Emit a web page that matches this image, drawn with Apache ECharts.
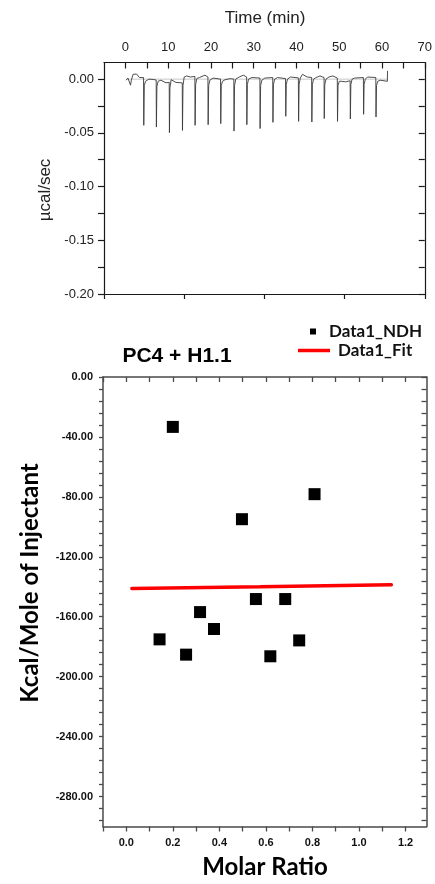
<!DOCTYPE html>
<html>
<head>
<meta charset="utf-8">
<script src="https://cdn.jsdelivr.net/npm/echarts@6/dist/echarts.min.js"></script>
<style>
html,body{margin:0;padding:0;background:#fff;}
#chart{width:435px;height:884px;}
</style>
</head>
<body>
<div id="chart"></div>
<script>
// ---------- Top panel: raw ITC thermogram (time in min, µcal/sec) ----------
var thermoTrace = [
[0.15,-0.001],[0.6,0.001],[1.0,0.0005],[1.2,-0.0056],[1.4,-0.001],[1.8,0.0045],[2.6,0.0048],[3.3,0.0015],[4.25,0.0015],
[4.3,-0.043],[4.42,-0.006],[4.7,-0.002],[5.5,0],[6.5,-0.0003],[7.2,-0.0008],
[7.25,-0.0446],[7.37,-0.007],[7.65,-0.002],[8.3,-0.001],[9.5,-0.0034],[10.25,-0.003],
[10.3,-0.0498],[10.42,-0.008],[10.7,-0.0005],[11.8,-0.003],[13.3,-0.0035],
[13.35,-0.0477],[13.47,-0.006],[13.75,0.002],[14.3,0.003],[15.2,0.002],[16.25,0.0025],
[16.3,-0.043],[16.42,-0.005],[16.7,0.0005],[17.3,0.0015],[18.6,0.0037],[19.3,0.002],
[19.35,-0.0424],[19.47,-0.006],[19.75,-0.001],[20.5,0.001],[22.25,0],
[22.3,-0.0414],[22.42,-0.006],[22.7,-0.002],[23.3,-0.0005],[24.5,0.0005],[25.35,0],
[25.4,-0.0483],[25.52,-0.006],[25.8,0],[26.6,0.002],[27.6,0.0037],[28.35,0.002],
[28.4,-0.0424],[28.52,-0.005],[28.8,0],[29.6,0.0015],[31.45,0.001],
[31.5,-0.046],[31.62,-0.006],[31.9,-0.001],[32.6,0.001],[34.45,0.0015],
[34.5,-0.0402],[34.62,-0.005],[34.9,0],[35.6,0.0015],[37.45,0.0005],
[37.5,-0.0346],[37.62,-0.005],[37.9,0],[38.6,0.002],[40.45,0.0012],
[40.5,-0.0393],[40.62,-0.005],[40.9,0.001],[41.4,0.0045],[42.5,0.002],[43.55,0.0015],
[43.6,-0.0399],[43.72,-0.005],[44.0,0],[44.6,0.0015],[45.5,0.003],[46.45,0.0015],
[46.5,-0.0367],[46.62,-0.005],[46.9,0],[47.6,0.002],[48.5,0.003],[49.55,0.001],
[49.6,-0.0393],[49.72,-0.006],[50.0,-0.002],[50.6,-0.002],[51.5,-0.0025],[52.55,-0.0015],
[52.6,-0.037],[52.72,-0.005],[53.0,0],[53.6,0.001],[55.65,0.0015],
[55.7,-0.0327],[55.82,-0.005],[56.1,0],[56.6,0.002],[58.55,0.0015],
[58.6,-0.0352],[58.72,-0.006],[59.0,-0.002],[59.6,-0.001],[61.25,-0.002],[61.3,0.0077]
];
var thermoBaseline = [[0.15,0],[61.3,0]];

// tick / label values (top panel)
var timeTicks  = [0,5,10,15,20,25,30,35,40,45,50,55,60,65,70];
var timeLabels = [0,10,20,30,40,50,60,70];
var powerTicks  = [0,-0.025,-0.05,-0.075,-0.1,-0.125,-0.15,-0.175,-0.2];
var powerLabels = [0,-0.05,-0.1,-0.15,-0.2];
var bottomFrameTicks = [0,1,2,3,4];

// ---------- Bottom panel: integrated heats ----------
var molarRatio = [0.143,0.200,0.257,0.317,0.377,0.497,0.557,0.619,0.683,0.743,0.809];
var ndhValues  = [-175.1,-33.3,-185.3,-156.9,-168.2,-94.9,-148.2,-186.4,-148.2,-175.8,-78.2];
var fitX = [0.024,0.574,1.139];
var fitY = [-141.1,-140.0,-138.7];

var ratioTicks  = [-0.1,0,0.1,0.2,0.3,0.4,0.5,0.6,0.7,0.8,0.9,1.0,1.1,1.2];
var ratioLabels = [0,0.2,0.4,0.6,0.8,1.0,1.2];
var heatTicks = [0,-8,-16,-24,-32,-40,-48,-56,-64,-72,-80,-88,-96,-104,-112,-120,-128,-136,-144,-152,-160,-168,-176,-184,-192,-200,-208,-216,-224,-232,-240,-248,-256,-264,-272,-280,-288,-296];
var heatLabels = [0,-40,-80,-120,-160,-200,-240,-280];

var chart = echarts.init(document.getElementById('chart'), null, {renderer:'canvas'});

function axLine(c,w){return {show:true,onZero:false,lineStyle:{color:c,width:w}};}
var TC = '#1a1a1a', BC = '#4a4a4a';

var option = {
  animation:false,
  backgroundColor:'#fff',
  grid:[
    {left:104,top:62.5,width:322.5,height:231.5},
    {left:103,top:377,width:323.5,height:449.5}
  ],
  xAxis:[
    {gridIndex:0,type:'value',position:'top',min:-5,max:70,
     axisLine:axLine(TC,1.2),splitLine:{show:false},
     axisTick:{show:true,inside:true,length:6,customValues:timeTicks,lineStyle:{color:TC,width:1.2}},
     axisLabel:{show:true,customValues:timeLabels,margin:9,fontSize:13,color:'#222',fontFamily:'Liberation Sans'}},
    {gridIndex:0,type:'value',position:'bottom',min:0,max:4,
     axisLine:axLine(TC,1.2),splitLine:{show:false},
     axisTick:{show:true,inside:false,length:5,customValues:bottomFrameTicks,lineStyle:{color:TC,width:1.2}},
     axisLabel:{show:false}},
    {gridIndex:1,type:'value',position:'bottom',min:-0.1,max:1.29,
     axisLine:axLine(BC,1.5),splitLine:{show:false},
     axisTick:{show:true,inside:false,length:5,customValues:ratioTicks,lineStyle:{color:BC,width:1.3}},
     axisLabel:{show:true,customValues:ratioLabels,margin:11,fontSize:11,fontWeight:'bold',color:'#111',fontFamily:'Liberation Sans',
       formatter:function(v){return v.toFixed(1);}}},
    {gridIndex:1,type:'value',position:'top',min:-0.1,max:1.29,
     axisLine:axLine(BC,1.5),splitLine:{show:false},
     axisTick:{show:true,inside:true,length:5,customValues:ratioTicks,lineStyle:{color:BC,width:1.3}},
     axisLabel:{show:false}}
  ],
  yAxis:[
    {gridIndex:0,type:'value',position:'left',min:-0.2,max:0.0155,
     axisLine:axLine(TC,1.2),splitLine:{show:false},
     axisTick:{show:true,inside:false,length:6,customValues:powerTicks,lineStyle:{color:TC,width:1.2}},
     axisLabel:{show:true,customValues:powerLabels,margin:10,fontSize:13,color:'#222',fontFamily:'Liberation Sans',
       formatter:function(v){return Math.abs(v)<1e-9?'0.00':v.toFixed(2);}}},
    {gridIndex:0,type:'value',position:'right',min:-0.2,max:0.0155,
     axisLine:axLine(TC,1.2),splitLine:{show:false},
     axisTick:{show:true,inside:true,length:6,customValues:powerTicks,lineStyle:{color:TC,width:1.2}},
     axisLabel:{show:false}},
    {gridIndex:1,type:'value',position:'left',min:-300,max:0,
     axisLine:axLine(BC,1.5),splitLine:{show:false},
     axisTick:{show:true,inside:false,length:4,customValues:heatTicks,lineStyle:{color:BC,width:1.3}},
     axisLabel:{show:true,customValues:heatLabels,margin:10,fontSize:11,fontWeight:'bold',color:'#111',fontFamily:'Liberation Sans',
       formatter:function(v){return Math.abs(v)<1e-9?'0.00':v.toFixed(2);}}},
    {gridIndex:1,type:'value',position:'right',min:-300,max:0,
     axisLine:axLine(BC,1.5),splitLine:{show:false},
     axisTick:{show:true,inside:true,length:5,customValues:heatTicks,lineStyle:{color:BC,width:1.3}},
     axisLabel:{show:false}}
  ],
  legend:[
    {data:['Data1_NDH'],left:305,top:318,orient:'vertical',itemWidth:6,itemHeight:6,icon:'rect',
     itemStyle:{color:'#000',opacity:1},
     textStyle:{fontSize:17,fontWeight:'bold',color:'#111',fontFamily:'Lato',padding:[0,0,0,8]}},
    {data:['Data1_Fit'],left:293,top:337,orient:'vertical',itemWidth:32,itemHeight:3.5,icon:'rect',
     itemStyle:{color:'#ff0000'},
     textStyle:{fontSize:17,fontWeight:'bold',color:'#111',fontFamily:'Lato',padding:[0,0,0,3]}}
  ],
  series:[
    {name:'baseline',type:'line',xAxisIndex:0,yAxisIndex:0,data:thermoBaseline,showSymbol:false,symbol:'none',
     lineStyle:{color:'#c8c8c8',width:1},z:1,silent:true},
    {name:'thermogram',type:'line',xAxisIndex:0,yAxisIndex:0,data:thermoTrace,showSymbol:false,symbol:'none',
     lineStyle:{color:'#3a3a3a',width:0.9},z:2,silent:true},
    {name:'Data1_NDH',type:'scatter',xAxisIndex:2,yAxisIndex:2,
     data:molarRatio.map(function(x,i){return [x,ndhValues[i]];}),
     symbol:'rect',symbolSize:12,itemStyle:{color:'#000',opacity:1},z:3},
    {name:'Data1_Fit',type:'line',xAxisIndex:2,yAxisIndex:2,
     data:fitX.map(function(x,i){return [x,fitY[i]];}),
     symbol:'none',showSymbol:false,lineStyle:{color:'#ff0000',width:3.5,cap:'round'},itemStyle:{color:'#ff0000'},z:4}
  ],
  graphic:[
    {type:'text',x:265,y:18,style:{text:'Time (min)',font:'17px "Liberation Sans"',fill:'#222',textAlign:'center',textVerticalAlign:'middle'}},
    {type:'text',x:45,y:190,rotation:Math.PI/2,style:{text:'µcal/sec',font:'17px "Liberation Sans"',fill:'#222',textAlign:'center',textVerticalAlign:'middle'}},
    {type:'text',x:177,y:356,style:{text:'PC4 + H1.1',font:'bold 21px "Liberation Sans"',fill:'#000',textAlign:'center',textVerticalAlign:'middle'}},
    {type:'text',x:30,y:583,rotation:Math.PI/2,style:{text:'Kcal/Mole of Injectant',font:'bold 24px Lato',fill:'#000',textAlign:'center',textVerticalAlign:'middle'}},
    {type:'text',x:265,y:867,style:{text:'Molar Ratio',font:'bold 24px Lato',fill:'#000',textAlign:'center',textVerticalAlign:'middle'}}
  ]
};
chart.setOption(option);
</script>
</body>
</html>
